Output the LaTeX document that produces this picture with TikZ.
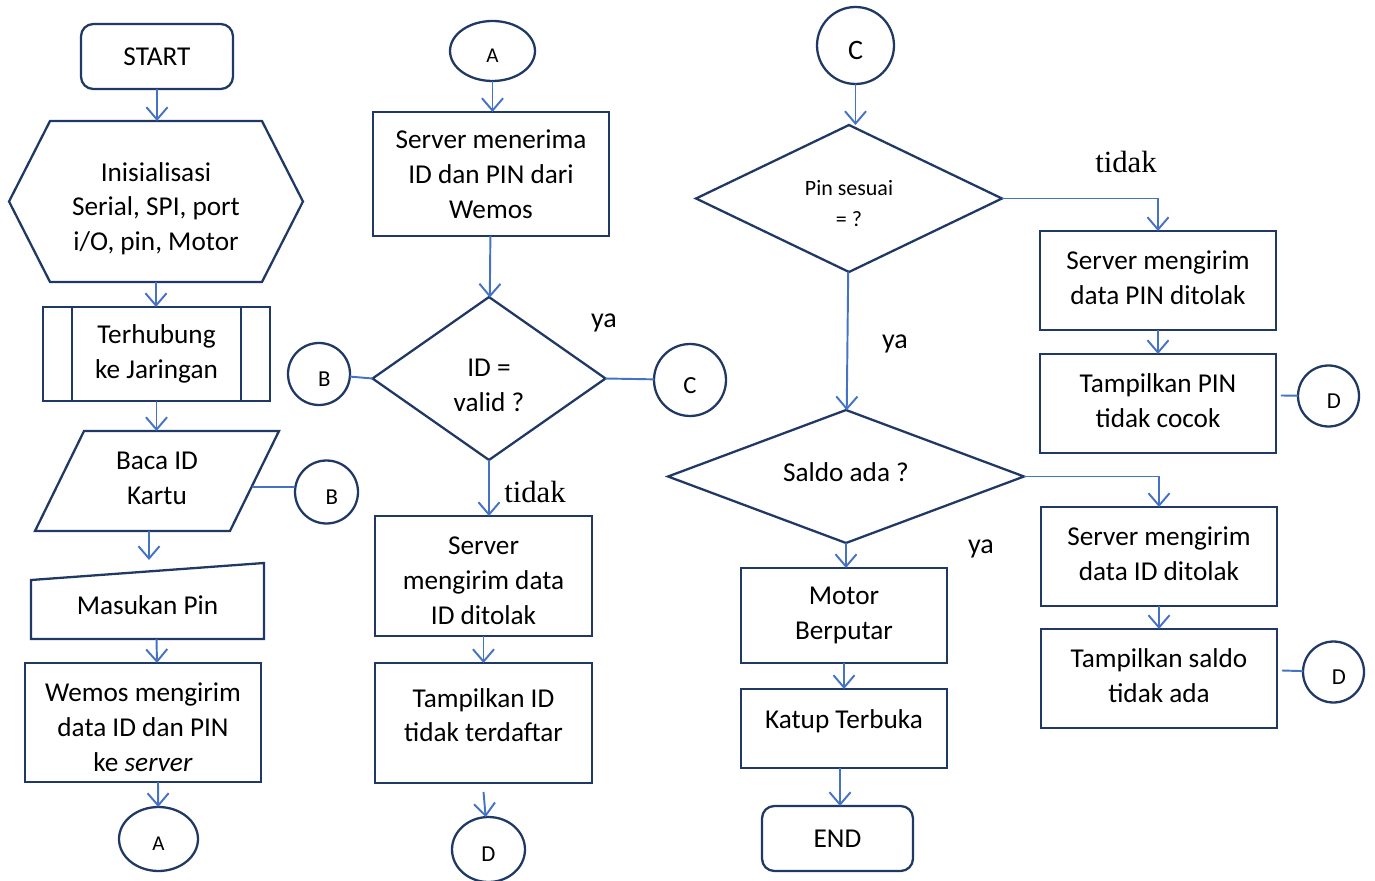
\documentclass[tikz,border=0pt]{standalone}
\usepackage{fontspec}
\setmainfont{Carlito}
\newfontfamily\tidakfont{Liberation Serif}
\usetikzlibrary{calc}
\usetikzlibrary{arrows.meta}
\usetikzlibrary{shapes.geometric}
\definecolor{boxline}{RGB}{32,56,100}
\definecolor{flowline}{RGB}{68,114,196}
\tikzset{
	outline/.style={
		draw=boxline,
		line width=1.3pt,
	},
	process/.style={
		outline,
		rectangle,
		align=center,
		inner sep=0,
		outer sep=0,
		font=\fontsize{15.5}{19.8}\selectfont,
	},
	terminal/.style={
		process,
		rounded corners=7pt,
	},
	shapebox/.style={
		rectangle,
		align=center,
		inner sep=0,
		outer sep=0,
		font=\fontsize{15.5}{19.8}\selectfont,
	},
	decision/.style={
		outline,
		diamond,
		align=center,
		inner sep=0,
		outer sep=0,
		font=\fontsize{15.5}{19.8}\selectfont,
	},
	connector/.style={
		outline,
		circle,
		inner sep=0,
		outer sep=0,
		text height=14pt,
		font=\fontsize{13}{15}\selectfont,
	},
	offpage/.style={
		outline,
		ellipse,
		inner sep=0,
		outer sep=0,
		text height=13.4pt,
		font=\fontsize{12}{14}\selectfont,
	},
	flow/.style={
		draw=flowline,
		line width=1.1pt,
		-{Straight Barb[length=7pt,width=12pt]},
	},
	link/.style={
		draw=flowline,
		line width=1.1pt,
	},
	answer/.style={
		font=\fontsize{16}{18}\selectfont,
	},
	answerserif/.style={
		font=\tidakfont\fontsize{17.5}{19}\selectfont,
	}
}

\begin{document}
\begin{tikzpicture}[x=0.02cm,y=-0.02cm]
	\useasboundingbox (0,0) rectangle (1375,881);

	% kolom 1
	\node[terminal, minimum width=3.04cm, minimum height=1.3cm] (start) at (157,56.5) {START};
	\node[shapebox, minimum width=5.88cm, minimum height=3.22cm, text height=58.6pt] (init) at (156,201.5) {Inisialisasi\\Serial, SPI, port\\i/O, pin, Motor};
	\draw[outline] (init.west) -- ($(init.north west)+(41,0)$) -- ($(init.north east)+(-41,0)$) -- (init.east) -- ($(init.south east)+(-41,0)$) -- ($(init.south west)+(41,0)$) -- cycle;
	\node[process, minimum width=4.54cm, minimum height=1.88cm] (jaringan) at (156.5,354) {Terhubung\\ke Jaringan};
	\draw[outline] ($(jaringan.north west)+(29,0)$) -- ($(jaringan.south west)+(29,0)$);
	\draw[outline] ($(jaringan.north east)+(-29,0)$) -- ($(jaringan.south east)+(-29,0)$);
	\node[shapebox, minimum width=4.88cm, minimum height=2cm, text depth=3.5pt] (baca) at (157,481) {Baca ID\\Kartu};
	\draw[outline] ($(baca.north west)+(49,0)$) -- (baca.north east) -- ($(baca.south east)+(-49,0)$) -- (baca.south west) -- cycle;
	\node[shapebox, minimum width=4.66cm, minimum height=1.52cm, text height=15pt] (pin) at (147.5,601) {Masukan Pin};
	\draw[outline] ($(pin.north west)+(0,17)$) -- (pin.north east) -- (pin.south east) -- (pin.south west) -- cycle;
	\node[process, minimum width=4.72cm, minimum height=2.38cm, text height=55.8pt] (wemos) at (143,722.5) {Wemos mengirim\\data ID dan PIN\\ke \textit{server}};
	\node[offpage, minimum width=1.58cm, minimum height=1.28cm] (a1) at (158.5,839) {A};
	\node[connector, minimum size=1.26cm] (b1) at (326.5,492) {\hspace*{6pt}B};

	\draw[flow] (start) -- (start |- init.north);
	\draw[flow] (init) -- (init |- jaringan.north);
	\draw[flow] (jaringan) -- (jaringan |- baca.north);
	\draw[flow] ($(baca.south)+(-8,0)$) -- ($(baca.south)+(-8,29)$);
	\draw[flow] ($(pin.south)+(9,0)$) -- ($(wemos.north)+(14,0)$);
	\draw[flow] ($(wemos.south)+(15,0)$) -- (a1);
	\coordinate (baca-se) at ($(baca.south east)+(-49,0)$);
	\coordinate (baca-r) at ($(baca.north east)!0.56!(baca-se)$);
	\draw[link] (baca-r) -- (baca-r -| b1.west);

	% kolom 2
	\node[offpage, minimum width=1.7cm, minimum height=1.2cm] (a2) at (492.5,51) {A};
	\node[process, minimum width=4.72cm, minimum height=2.48cm] (terima) at (491,174) {Server menerima\\ID dan PIN dari\\Wemos};
	\node[decision, aspect=1.43, minimum width=4.66cm, minimum height=3.26cm, text height=38pt] (idvalid) at (489,378.5) {ID =\\valid ?};
	\node[connector, minimum size=1.24cm] (b2) at (319,374) {\hspace*{6pt}B};
	\node[connector, minimum size=1.44cm, text height=15pt, font=\fontsize{14}{16}\selectfont] (c1) at (690,380) {C};
	\node[process, minimum width=4.34cm, minimum height=2.4cm, text height=55.3pt] (idtolak) at (483.5,576) {Server\\mengirim data\\ID ditolak};
	\node[process, minimum width=4.34cm, minimum height=2.4cm, text depth=9pt] (idtidak) at (483.5,723) {Tampilkan ID\\tidak terdaftar};
	\node[offpage, minimum width=1.46cm, minimum height=1.3cm, text height=14pt, font=\fontsize{13}{15}\selectfont] (d1) at (488.5,849.5) {D};
	\node[answer] (ya1) at (604,323) {ya};
	\node[answerserif] (tidak1) at (535,492) {tidak};

	\draw[flow] (a2) -- (a2 |- terima.north);
	\draw[flow] (terima) -- (idvalid);
	\draw[link] (b2) -- (idvalid.west);
	\draw[link] (idvalid.east) -- (c1);
	\draw[flow] (idvalid) -- (idvalid |- idtolak.north);
	\draw[flow] (idtolak) -- (idtolak |- idtidak.north);
	\draw[flow] ($(idtidak.south)+(0,9)$) -- (d1);

	% kolom 3
	\node[connector, minimum size=1.54cm, text height=16pt, font=\fontsize{16}{18}\selectfont] (c2) at (855.5,45.5) {C};
	\node[decision, aspect=2.08, minimum width=6.12cm, minimum height=2.94cm, text height=32pt, font=\fontsize{12.5}{17.6}\selectfont] (pinok) at (849,198.5) {Pin sesuai\\= ?};
	\node[decision, aspect=2.68, minimum width=7.12cm, minimum height=2.66cm, text depth=5pt] (saldo) at (846,476.5) {Saldo ada ?};
	\node[process, minimum width=4.12cm, minimum height=1.9cm] (motor) at (844,615.5) {Motor\\Berputar};
	\node[process, minimum width=4.12cm, minimum height=1.58cm, text depth=10.4pt] (katup) at (844,728.5) {Katup Terbuka};
	\node[terminal, minimum width=3.02cm, minimum height=1.3cm] (end) at (837.5,838.5) {END};
	\node[answer] (ya2) at (895,344) {ya};
	\node[answer] (ya3) at (981,549) {ya};
	\node[answerserif] (tidak2) at (1126,162) {tidak};

	\draw[flow] (c2) -- (c2 |- pinok.north);
	\draw[flow] (pinok) -- (saldo);
	\draw[flow] (saldo) -- (saldo |- motor.north);
	\draw[flow] (motor) -- (motor |- katup.north);
	\draw[flow] ($(katup.south)+(-4,0)$) -- ($(end.north)+(2.5,0)$);

	% kolom 4
	\node[process, minimum width=4.72cm, minimum height=1.98cm, text depth=3.5pt] (pintolak) at (1158,280.5) {Server mengirim\\data PIN ditolak};
	\node[process, minimum width=4.72cm, minimum height=1.98cm, text depth=3.5pt] (pintidak) at (1158,403.5) {Tampilkan PIN\\tidak cocok};
	\node[connector, minimum size=1.22cm] (d2) at (1328.5,396) {\hspace*{6pt}D};
	\node[process, minimum width=4.72cm, minimum height=1.98cm, text depth=3.5pt] (saldotolak) at (1159,556.5) {Server mengirim\\data ID ditolak};
	\node[process, minimum width=4.72cm, minimum height=1.98cm, text depth=3.5pt] (saldotidak) at (1159,678.5) {Tampilkan saldo\\tidak ada};
	\node[connector, minimum size=1.22cm] (d3) at (1333.5,672) {\hspace*{6pt}D};

	\draw[flow] (pinok.east) -| (pintolak.north);
	\draw[flow] (pintolak) -- (pintidak);
	\draw[link] ($(pintidak.east)+(5,-8)$) -- (d2);
	\draw[flow] (saldo.east) -| (saldotolak.north);
	\draw[flow] (saldotolak) -- (saldotidak);
	\draw[link] ($(saldotidak.east)+(5,-8)$) -- (d3);
\end{tikzpicture}
\end{document}
